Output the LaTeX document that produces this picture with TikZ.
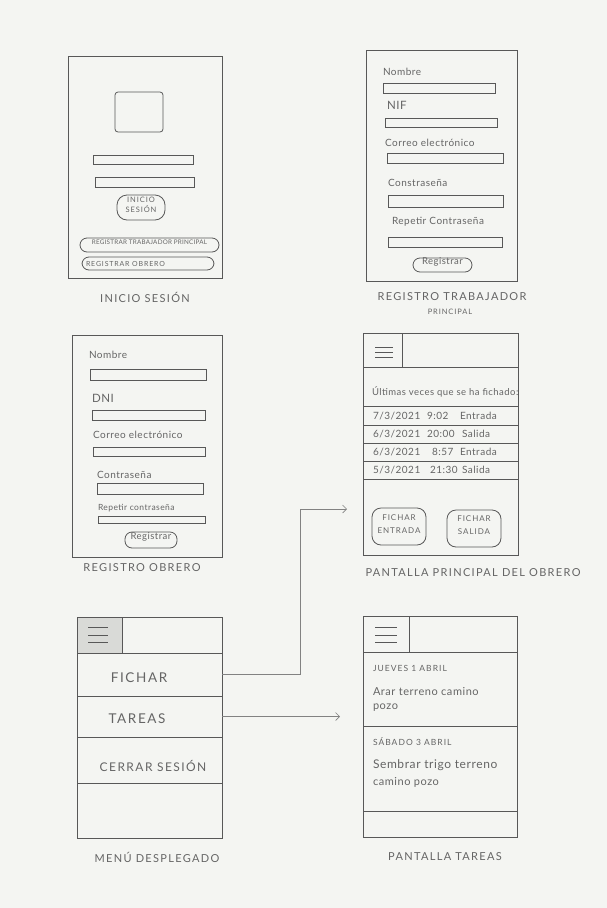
\documentclass[tikz,border=0pt]{standalone}
\usepackage{fontspec}
\setmainfont{Lato}
\newfontfamily\capsfont[LetterSpace=12]{Lato}
\newfontfamily\tightcaps[LetterSpace=4]{Lato}
\newfontfamily\handfont[LetterSpace=5]{Lato}
\usetikzlibrary{fit,arrows.meta}
\definecolor{paper}{HTML}{F4F5F2}
\definecolor{pencil}{HTML}{585858}
\definecolor{lead}{HTML}{656565}
\definecolor{shade}{HTML}{D9DAD7}
\tikzset{
  every node/.style={inner sep=0pt, outer sep=0pt, text=lead},
  screen/.style={draw=pencil, line width=0.9pt},
  field/.style={draw=pencil, line width=0.8pt},
  pill/.style={draw=pencil, line width=0.8pt, rounded corners=7pt},
  rowbox/.style={draw=pencil, line width=0.8pt},
  caption/.style={font=\capsfont\fontsize{11}{12}\selectfont},
  hand/.style={font=\handfont\fontsize{10}{11}\selectfont, anchor=west},
  smallcaps/.style={font=\capsfont\fontsize{8.5}{9.5}\selectfont, anchor=west},
  link/.style={draw=pencil!75, line width=0.6pt, -{Straight Barb[length=4pt,width=8pt]}},
  burger/.style={draw=pencil, line width=0.8pt},
}
\begin{document}
\begin{tikzpicture}[x=1pt,y=-1pt]
\fill[paper] (0,0) rectangle (607,908);
\useasboundingbox (0,0) rectangle (607,908);

% ---------- login screen ----------
\node[screen, fit={(68,56)(222,278)}] (login) {};
\node[field, rounded corners=3pt, fit={(115,92)(163,132)}] (logo) {};
\node[field, fit={(93,155)(193,164)}] (user) {};
\node[field, fit={(95,177)(194,187)}] (pass) {};
\node[pill, rounded corners=10pt, fit={(117,195)(165,220)}, align=center,
      font=\capsfont\fontsize{7.5}{10}\selectfont] (loginBtn) {INICIO\\SESIÓN};
\node[pill, fit={(80,238)(219,252)}, font=\tightcaps\fontsize{6.3}{7}\selectfont] (regBoss) {REGISTRAR TRABAJADOR PRINCIPAL};
\node[pill, fit={(82,257)(214,270)}] (regWorker) {};
\node[font=\capsfont\fontsize{7}{8}\selectfont, anchor=west] (regWorkerTxt) at (86,263.5) {REGISTRAR OBRERO};
\node[caption] (capLogin) at (145,297) {INICIO SESIÓN};

% ---------- main worker sign-up ----------
\node[screen, fit={(366,50)(517,281)}] (bossScr) {};
\node[hand] (bName) at (383,72) {Nombre};
\node[field, fit={(383,83)(495,93)}] (bNameF) {};
\node[hand, font=\handfont\fontsize{11.5}{12}\selectfont] (bNif) at (387,105) {NIF};
\node[field, fit={(385,118)(497,127)}] (bNifF) {};
\node[hand] (bMail) at (385,143) {Correo electrónico};
\node[field, fit={(387,153)(503,163)}] (bMailF) {};
\node[hand] (bPass) at (388,183) {Constraseña};
\node[field, fit={(388,195)(503,207)}] (bPassF) {};
\node[hand] (bPass2) at (392,222) {Repetir Contraseña};
\node[field, fit={(388,237)(502,247)}] (bPass2F) {};
\node[pill, fit={(413,258)(472,272)}, font=\handfont\fontsize{9.5}{10}\selectfont] (bBtn) {Registrar};
\node[caption] (capBoss) at (452,297) {REGISTRO TRABAJADOR};
\node[caption, font=\capsfont\fontsize{7.5}{8}\selectfont] (capBoss2) at (450,312) {PRINCIPAL};

% ---------- worker sign-up ----------
\node[screen, fit={(72,335)(222,557)}] (workerScr) {};
\node[hand] (wName) at (89,355) {Nombre};
\node[field, fit={(90,369)(206,380)}] (wNameF) {};
\node[hand, font=\handfont\fontsize{11.5}{12}\selectfont] (wDni) at (92,398) {DNI};
\node[field, fit={(92,410)(205,420)}] (wDniF) {};
\node[hand] (wMail) at (93,435) {Correo electrónico};
\node[field, fit={(93,447)(205,456)}] (wMailF) {};
\node[hand] (wPass) at (97,475) {Contraseña};
\node[field, fit={(97,483)(203,494)}] (wPassF) {};
\node[hand, font=\handfont\fontsize{8.5}{9}\selectfont] (wPass2) at (98,508) {Repetir contraseña};
\node[field, fit={(98,516)(205,523)}] (wPass2F) {};
\node[pill, fit={(125,532)(177,548)}, font=\handfont\fontsize{9.5}{10}\selectfont] (wBtn) {Registrar};
\node[caption] (capWorker) at (142,568) {REGISTRO OBRERO};

% ---------- worker home ----------
\node[screen, fit={(363,333)(518,555)}] (homeScr) {};
\node[rowbox, fit={(363,333)(402,367)}] (homeMenu) {};
\node[rowbox, fit={(402,333)(518,367)}] (homeTitle) {};
\draw[burger] (375,347) -- (393,347) (375,352) -- (393,352) (375,357) -- (393,357);
\node[hand, font=\handfont\fontsize{9.5}{10}\selectfont] (hIntro) at (372,392) {Últimas veces que se ha fichado:};
\node[rowbox, fit={(363,406)(518,425)}] (log1) {};
\node[rowbox, fit={(363,425)(518,443)}] (log2) {};
\node[rowbox, fit={(363,443)(518,461)}] (log3) {};
\node[rowbox, fit={(363,461)(518,479)}] (log4) {};
\node[hand] (d1) at (373,416) {7/3/2021};
\node[hand] (t1) at (427,416) {9:02};
\node[hand] (e1) at (460,416) {Entrada};
\node[hand] (d2) at (373,434) {6/3/2021};
\node[hand] (t2) at (427,434) {20:00};
\node[hand] (e2) at (462,434) {Salida};
\node[hand] (d3) at (373,452) {6/3/2021};
\node[hand] (t3) at (432,452) {8:57};
\node[hand] (e3) at (460,452) {Entrada};
\node[hand] (d4) at (373,470) {5/3/2021};
\node[hand] (t4) at (430,470) {21:30};
\node[hand] (e4) at (462,470) {Salida};
\node[pill, rounded corners=9pt, fit={(372,508)(426,545)}, align=center,
      font=\capsfont\fontsize{8}{13}\selectfont] (inBtn) {FICHAR\\ENTRADA};
\node[pill, rounded corners=9pt, fit={(447,510)(501,547)}, align=center,
      font=\capsfont\fontsize{8}{13}\selectfont] (outBtn) {FICHAR\\SALIDA};
\node[caption] (capHome) at (473,573) {PANTALLA PRINCIPAL DEL OBRERO};

% ---------- open menu ----------
\node[screen, fit={(77,617)(222,838)}] (menuScr) {};
\node[rowbox, fill=shade, fit={(77,617)(122,653)}] (menuBtn) {};
\draw[burger] (88,627) -- (108,627) (88,635) -- (108,635) (88,642) -- (108,642);
\node[rowbox, fit={(77,653)(222,696)}] (mFichar) {};
\node[rowbox, fit={(77,696)(222,737)}] (mTareas) {};
\node[rowbox, fit={(77,737)(222,783)}] (mCerrar) {};
\node[rowbox, fit={(77,783)(222,838)}] (mRest) {};
\node[font=\capsfont\fontsize{13.5}{14}\selectfont] (mFicharTxt) at (139,678) {FICHAR};
\node[font=\capsfont\fontsize{13.5}{14}\selectfont] (mTareasTxt) at (137,719) {TAREAS};
\node[font=\capsfont\fontsize{12}{13}\selectfont] (mCerrarTxt) at (153,766) {CERRAR SESIÓN};
\node[caption] (capMenu) at (157,857) {MENÚ DESPLEGADO};

% ---------- tasks ----------
\node[screen, fit={(363,616)(517,837)}] (taskScr) {};
\node[rowbox, fit={(363,616)(409,652)}] (taskMenu) {};
\node[rowbox, fit={(409,616)(517,652)}] (taskTitle) {};
\draw[burger] (375,627) -- (397,627) (375,635) -- (397,635) (375,642) -- (397,642);
\node[rowbox, fit={(363,652)(517,726)}] (task1) {};
\node[rowbox, fit={(363,726)(517,811)}] (task2) {};
\node[rowbox, fit={(363,811)(517,837)}] (taskFoot) {};
\node[smallcaps] (t1Day) at (373,668) {JUEVES 1 ABRIL};
\node[hand, font=\handfont\fontsize{11}{12}\selectfont] (t1a) at (373,692) {Arar terreno camino};
\node[hand, font=\handfont\fontsize{11}{12}\selectfont] (t1b) at (373,708) {pozo};
\node[smallcaps] (t2Day) at (373,742) {SÁBADO 3 ABRIL};
\node[hand, font=\handfont\fontsize{12}{13}\selectfont] (t2a) at (373,765) {Sembrar trigo terreno};
\node[hand, font=\handfont\fontsize{11}{12}\selectfont] (t2b) at (373,782) {camino pozo};
\node[caption] (capTasks) at (445,857) {PANTALLA TAREAS};

% ---------- navigation ----------
\coordinate (bendA) at (300,509);
\coordinate (tipA) at (347,509);
\coordinate (tipB) at (340,716.5);
\draw[link] (mFichar.east) -| (bendA) -- (tipA);
\draw[link] (mTareas.east) -- (tipB);
\end{tikzpicture}
\end{document}
